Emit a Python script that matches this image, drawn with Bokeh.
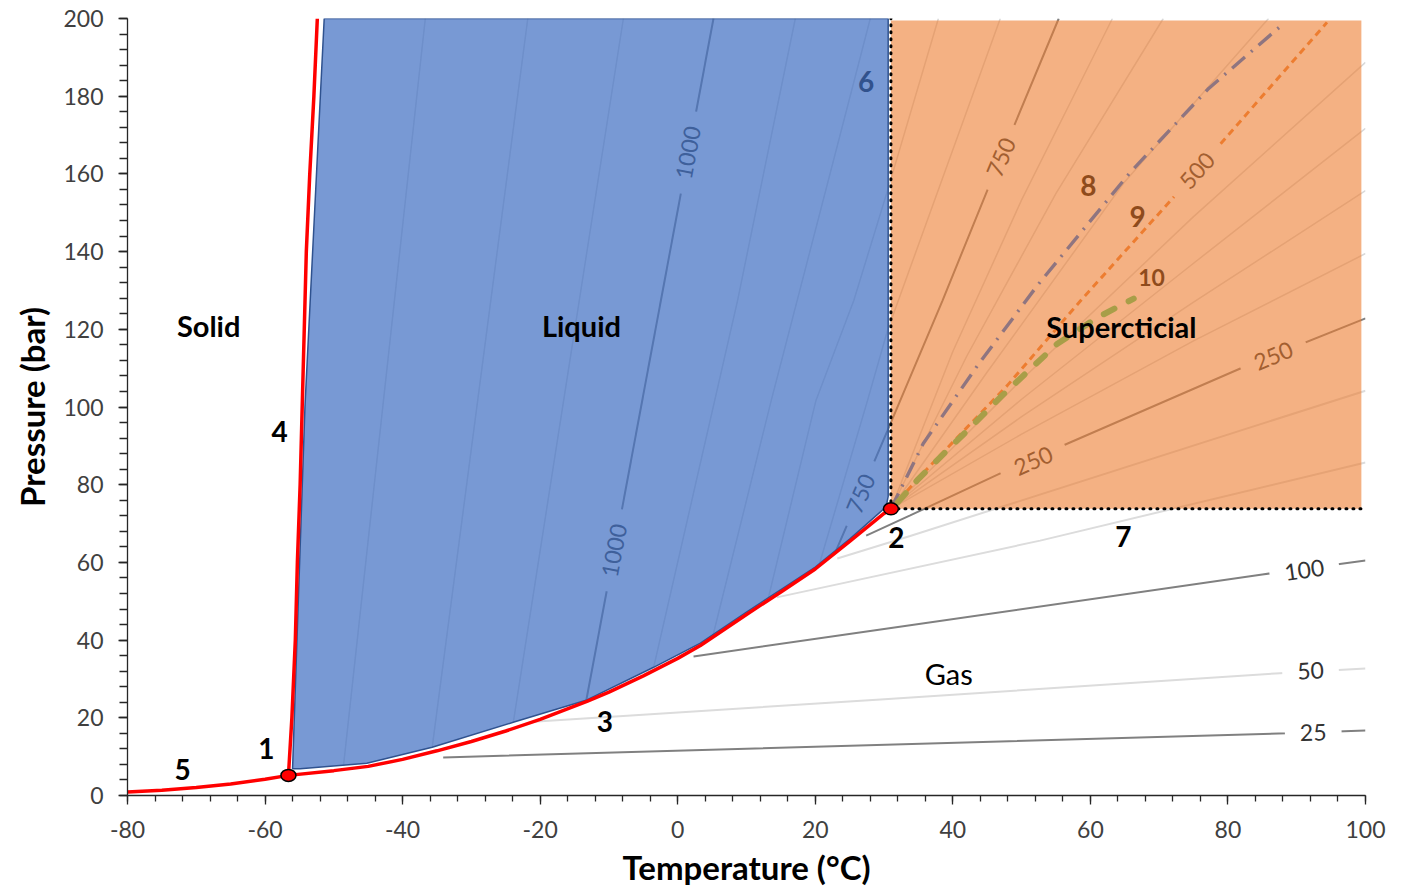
from bokeh.plotting import figure
from bokeh.models import Range1d, SingleIntervalTicker
from bokeh.core.properties import value
from bokeh.embed import file_html
from bokeh.resources import INLINE

FONT = value("Lato")

# ---------------- data ----------------
# phase boundaries (T in degC, P in bar)
sub_T = [-80, -75, -70, -65, -60, -56.6]
sub_P = [0.87, 1.36, 2.04, 2.96, 4.17, 5.18]
vap_T = [-56.6, -50, -45, -40, -35, -30, -25, -20, -13.2, -10, -5, 0, 3.3, 10, 15, 20, 25, 30, 31.0]
vap_P = [5.18, 6.4, 7.5, 9.3, 11.5, 13.9, 16.6, 19.6, 24.2, 26.6, 30.8, 35.3, 38.6, 46.6, 52.4,
         58.3, 65.4, 72.6, 73.8]
melt_T = [-56.6, -56.1, -55.6, -55.3, -54.9, -54.6, -54.3, -54.0, -53.5, -52.9, -52.4]
melt_P = [5.18, 20, 40, 60, 80, 100, 120, 140, 160, 180, 200]

triple_T, triple_P = [-56.6], [5.18]
crit_T, crit_P = [31.0], [73.8]

# regions
liquid_T = [-56.0, -54.2, -51.4, 30.6, 30.6, 30.3, 25, 20, 15, 10, 3.3, -3.5, -13.2, -23.8, -35.7, -45.2, -54.9]
liquid_P = [6.9, 100, 200, 200, 77, 74.3, 66.0, 58.8, 53.0, 47.2, 39.2, 33.0, 24.6, 18.9, 12.4, 8.3, 6.9]
super_T = [31.0, 99.4, 99.4, 31.0]
super_P = [73.8, 73.8, 199.5, 199.5]

# labelled density isolines (kg/m3)
iso1000_T = [-13.3, 5.2]
iso1000_P = [24.4, 200]
iso750_T = [22.9, 30.5, 38.5, 45.0, 49.1, 55.4]
iso750_P = [62.5, 93.9, 127.4, 155.7, 173.2, 200]
iso500_T = [31.0, 35.8, 47.9, 58.6, 72.1, 78.9, 94.4]
iso500_P = [73.8, 83.2, 105.5, 127.4, 154.0, 167.7, 199.0]
iso250_T = [27.4, 33.8, 46.9, 56.7, 81.8, 100]
iso250_P = [66.9, 72.1, 82.9, 90.6, 109.9, 122.8]
iso100_T = [2.3, 29.5, 85.0, 100]
iso100_P = [35.8, 42.7, 56.9, 60.5]
iso50_T = [-21.0, 29.5, 86.9, 100]
iso50_P = [19.0, 24.7, 31.4, 32.7]
iso25_T = [-34.1, 88.6, 100]
iso25_P = [9.8, 16.0, 16.7]

# unlabelled (faint) isolines
f1_T, f1_P = [-48.6, -36.7], [7.6, 200]
f2_T, f2_P = [-35.7, -21.8], [12.4, 200]
f3_T, f3_P = [-23.9, -7.9], [18.9, 200]
f4_T, f4_P = [-3.5, 8.7, 17.1], [33.0, 127.4, 200]
f5_T, f5_P = [5.1, 13.6, 28.0], [41.0, 101.7, 200]
f6_T, f6_P = [13.2, 20.1, 25.6, 30.5, 37.9], [51.0, 101.7, 127.4, 155.7, 200]
f7_T, f7_P = [20.6, 27.6, 30.5, 46.9], [59.6, 101.7, 119.7, 200]
g1_T, g1_P = [31.0, 40, 50, 63.2], [73.8, 114.3, 153.3, 200]
g2_T, g2_P = [31.0, 42, 55, 70.6], [73.8, 113, 155, 200]
g3_T, g3_P = [31.0, 45, 65, 85.9], [73.8, 109, 158, 200]
g4_T, g4_P = [31.0, 50, 75, 100], [73.8, 107, 149, 188.7]
g5_T, g5_P = [31.0, 50, 75, 100], [73.8, 102, 137, 171.7]
g6_T, g6_P = [31.0, 50, 75, 100], [73.8, 97.5, 127, 155.7]
g7_T, g7_P = [31.0, 50, 75, 100], [73.8, 93, 117, 139.5]
ga_T, ga_P = [14.4, 52.7, 100], [51.0, 65.6, 85.7]
gb_T, gb_P = [23.2, 33.8, 100], [61.0, 66.8, 104.2]

# numbered lines 8 and 10
line8_T = [31.0, 35.7, 43.6, 52.3, 65.8, 77.2, 88.1]
line8_P = [73.8, 90.6, 110.7, 131.3, 160.4, 182.0, 198.7]
line10_T = [32.0, 34.8, 38.4, 42.6, 46.9, 55.2, 61.0, 66.3]
line10_P = [75.5, 81.1, 87.5, 94.8, 102.5, 116.3, 123.0, 127.9]

# isoline labels
iso_lab_text = ["1000", "1000", "750", "750", "500", "250", "250", "100", "50", "25"]
iso_lab_T = [-9.25, 1.5, 26.6, 47.0, 75.5, 51.7, 86.6, 91.1, 92.0, 92.4]
iso_lab_P = [63.1, 165.5, 77.7, 164.3, 160.9, 86.2, 113.2, 58.1, 32.2, 16.3]
iso_lab_ang = [79.5, 79.5, 67, 67, 48, 24, 23, 8, 3.5, 1.5]

# region names
region_text = ["Solid", "Liquid", "Supercticial"]
region_T = [-68.2, -14.0, 64.5]
region_P = [121.0, 121.0, 120.7]
gas_text, gas_T, gas_P = ["Gas"], [39.4], [31.4]

# numbered markers
num_text = ["1", "2", "3", "4", "5", "7"]
num_T = [-59.8, 31.8, -10.6, -57.9, -72.0, 64.8]
num_P = [12.1, 66.4, 19.0, 93.7, 6.7, 66.7]
num2_text = ["6", "8", "9"]
num2_T = [27.4, 59.7, 66.85]
num2_P = [183.8, 157.0, 149.0]
num3_text, num3_T, num3_P = ["10"], [68.9], [133.3]

ticks = list(range(-80, 101, 20))

# ---------------- figure ----------------
p = figure(width=1412, height=890, x_range=Range1d(-80, 100), y_range=Range1d(0, 200),
           output_backend="svg", toolbar_location=None,
           min_border_left=127, min_border_right=47, min_border_top=18, min_border_bottom=95,
           background_fill_color="white", border_fill_color="white")
p.grid.visible = False
p.outline_line_color = None

p.xaxis.ticker = SingleIntervalTicker(interval=20, num_minor_ticks=5)
p.yaxis.ticker = SingleIntervalTicker(interval=20, num_minor_ticks=5)
p.xaxis.major_label_overrides = {t: str(t) for t in ticks}
for ax in (p.xaxis[0], p.yaxis[0]):
    ax.axis_line_color = "#262626"
    ax.axis_line_width = 1.3
    ax.major_tick_line_color = "#262626"
    ax.minor_tick_line_color = "#262626"
    ax.major_tick_line_width = 1.3
    ax.minor_tick_line_width = 1.3
    ax.major_tick_in = 0
    ax.minor_tick_in = 0
    ax.major_tick_out = 9
    ax.major_label_text_font = "Lato"
    ax.major_label_text_font_size = "23px"
    ax.major_label_text_color = "#404040"
    ax.axis_label_text_font = "Lato"
    ax.axis_label_text_font_size = "33px"
    ax.axis_label_text_font_style = "bold"
    ax.axis_label_text_color = "black"
p.xaxis.minor_tick_out = 6
p.yaxis.minor_tick_out = 8
p.xaxis.major_label_standoff = 16
p.yaxis.major_label_standoff = 15
p.xaxis.axis_label = "Temperature (°C)"
p.yaxis.axis_label = "Pressure (bar)"
p.xaxis.axis_label_standoff = 6
p.yaxis.axis_label_standoff = 8

# faint isolines (drawn under the region fills)
faint_xs = [f1_T, f2_T, f3_T, f4_T, f5_T, f6_T, f7_T, g1_T, g2_T, g3_T, g4_T, g5_T, g6_T, g7_T]
faint_ys = [f1_P, f2_P, f3_P, f4_P, f5_P, f6_P, f7_P, g1_P, g2_P, g3_P, g4_P, g5_P, g6_P, g7_P]
p.multi_line(faint_xs, faint_ys, line_color="#d9d9d9", line_width=1.5)
p.multi_line([ga_T, gb_T, iso50_T], [ga_P, gb_P, iso50_P], line_color="#dcdcdc", line_width=2)
p.multi_line([iso1000_T, iso750_T, iso250_T, iso100_T, iso25_T],
             [iso1000_P, iso750_P, iso250_P, iso100_P, iso25_P], line_color="#808080", line_width=2)
p.line(iso500_T, iso500_P, line_color="#ED7D31", line_width=3, line_dash="7 5")

# isoline labels with background gap
p.text(x=iso_lab_T, y=iso_lab_P, text=iso_lab_text, angle=iso_lab_ang, angle_units="deg",
       text_font=FONT, text_font_size="23px", text_color="#333333",
       text_align="center", text_baseline="middle",
       background_fill_color="white", padding=(15, 1))

# labels lying under the region fills
p.text(x=num2_T, y=num2_P, text=num2_text, text_font=FONT, text_font_size="28px",
       text_font_style="bold", text_color="black", text_align="center", text_baseline="middle")
p.text(x=num3_T, y=num3_P, text=num3_text, text_font=FONT, text_font_size="23px",
       text_font_style="bold", text_color="black", text_align="center", text_baseline="middle")

# regions
p.patch(super_T, super_P, fill_color="#ED7D31", fill_alpha=0.6, line_color=None)
p.patch(liquid_T, liquid_P, fill_color="#4472C4", fill_alpha=0.72,
        line_color="#2F528F", line_width=1.5)

# numbered lines on top
p.line(line8_T, line8_P, line_color="#8F7580", line_width=3.4, line_dash="17 8 2 8")
p.line(line10_T, line10_P, line_color="#A89E48", line_width=6, line_dash="12 16", line_cap="round")

# phase boundaries
p.line(sub_T + vap_T, sub_P + vap_P, line_color="#FF0000", line_width=3.5)
p.line(melt_T, melt_P, line_color="#FF0000", line_width=3.5)

# critical limits (dotted)
p.line([crit_T[0], crit_T[0]], [crit_P[0], 200], line_color="black", line_width=3,
       line_dash="1 6", line_cap="round")
p.line([crit_T[0], 100], [crit_P[0], crit_P[0]], line_color="black", line_width=3,
       line_dash="1 6", line_cap="round")

# triple and critical points
p.ellipse(x=triple_T + crit_T, y=triple_P + crit_P, width=15, height=12,
          width_units="screen", height_units="screen",
          fill_color="#FF0000", line_color="black", line_width=1.5)

# text on top
p.text(x=region_T, y=region_P, text=region_text, text_font=FONT, text_font_size="29px",
       text_font_style="bold", text_color="black", text_align="center", text_baseline="middle")
p.text(x=gas_T, y=gas_P, text=gas_text, text_font=FONT, text_font_size="29px",
       text_color="black", text_align="center", text_baseline="middle")
p.text(x=num_T, y=num_P, text=num_text, text_font=FONT, text_font_size="28px",
       text_font_style="bold", text_color="black", text_align="center", text_baseline="middle")

open("out.html", "w").write(file_html(p, INLINE))
